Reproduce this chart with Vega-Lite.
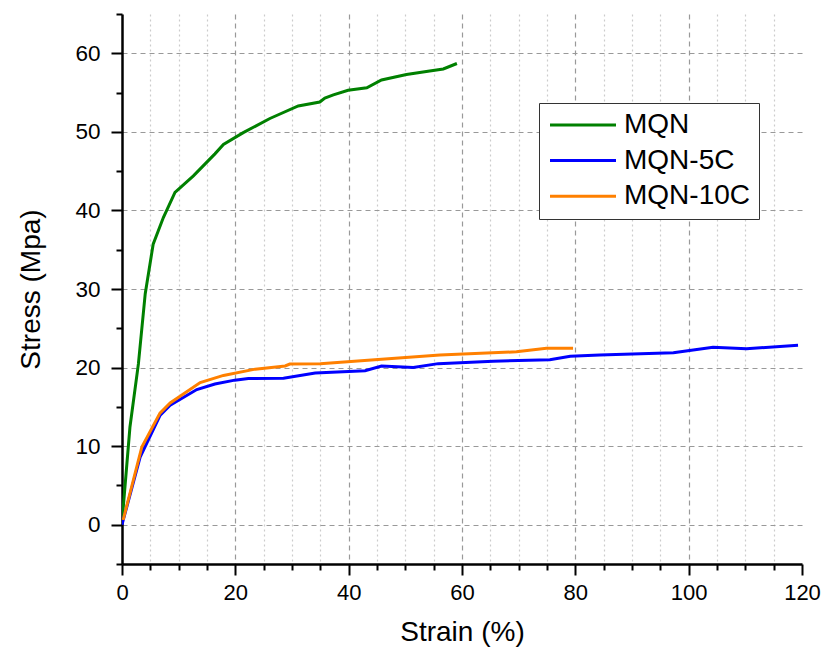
{
  "$schema": "https://vega.github.io/schema/vega-lite/v6.json",
  "autosize": {"type": "none"},
  "padding": {"left": 122, "top": 14, "right": 23, "bottom": 85},
  "width": 680,
  "height": 550,
  "background": "white",
  "config": {
    "font": "Liberation Sans",
    "view": {"stroke": null}
  },
  "data": {
    "values": [
      {"series": "MQN", "strain": 0, "stress": 0.3},
      {"series": "MQN", "strain": 1.4, "stress": 12.4},
      {"series": "MQN", "strain": 2.9, "stress": 20.5},
      {"series": "MQN", "strain": 4.1, "stress": 29.4},
      {"series": "MQN", "strain": 5.5, "stress": 35.7},
      {"series": "MQN", "strain": 7.3, "stress": 39.1},
      {"series": "MQN", "strain": 9.35, "stress": 42.3},
      {"series": "MQN", "strain": 12.6, "stress": 44.4},
      {"series": "MQN", "strain": 16.4, "stress": 47.2},
      {"series": "MQN", "strain": 17.9, "stress": 48.4},
      {"series": "MQN", "strain": 21.4, "stress": 49.9},
      {"series": "MQN", "strain": 26.1, "stress": 51.7},
      {"series": "MQN", "strain": 31.1, "stress": 53.3},
      {"series": "MQN", "strain": 34.9, "stress": 53.8},
      {"series": "MQN", "strain": 35.8, "stress": 54.3},
      {"series": "MQN", "strain": 37.3, "stress": 54.7},
      {"series": "MQN", "strain": 39.9, "stress": 55.3},
      {"series": "MQN", "strain": 43.2, "stress": 55.6},
      {"series": "MQN", "strain": 45.8, "stress": 56.6},
      {"series": "MQN", "strain": 50.2, "stress": 57.3},
      {"series": "MQN", "strain": 54.3, "stress": 57.75},
      {"series": "MQN", "strain": 56.7, "stress": 58.0},
      {"series": "MQN", "strain": 59.1, "stress": 58.7},
      {"series": "MQN-5C", "strain": 0, "stress": 0},
      {"series": "MQN-5C", "strain": 3.2, "stress": 8.6},
      {"series": "MQN-5C", "strain": 6.7, "stress": 13.9},
      {"series": "MQN-5C", "strain": 8.5, "stress": 15.2},
      {"series": "MQN-5C", "strain": 13.2, "stress": 17.2},
      {"series": "MQN-5C", "strain": 16.4, "stress": 17.9},
      {"series": "MQN-5C", "strain": 19.9, "stress": 18.4},
      {"series": "MQN-5C", "strain": 22.3, "stress": 18.6},
      {"series": "MQN-5C", "strain": 28.5, "stress": 18.65},
      {"series": "MQN-5C", "strain": 34.1, "stress": 19.3},
      {"series": "MQN-5C", "strain": 42.9, "stress": 19.6},
      {"series": "MQN-5C", "strain": 45.8, "stress": 20.2},
      {"series": "MQN-5C", "strain": 51.4, "stress": 20.0},
      {"series": "MQN-5C", "strain": 55.8, "stress": 20.5},
      {"series": "MQN-5C", "strain": 65.5, "stress": 20.8},
      {"series": "MQN-5C", "strain": 75.5, "stress": 21.0},
      {"series": "MQN-5C", "strain": 79.1, "stress": 21.45},
      {"series": "MQN-5C", "strain": 84.3, "stress": 21.6},
      {"series": "MQN-5C", "strain": 97.3, "stress": 21.9},
      {"series": "MQN-5C", "strain": 104.3, "stress": 22.6},
      {"series": "MQN-5C", "strain": 110.2, "stress": 22.4},
      {"series": "MQN-5C", "strain": 119.3, "stress": 22.85},
      {"series": "MQN-10C", "strain": 0.2, "stress": 0.6},
      {"series": "MQN-10C", "strain": 3.5, "stress": 9.9},
      {"series": "MQN-10C", "strain": 6.7, "stress": 14.2},
      {"series": "MQN-10C", "strain": 8.5, "stress": 15.5},
      {"series": "MQN-10C", "strain": 13.8, "stress": 18.1},
      {"series": "MQN-10C", "strain": 17.9, "stress": 19.0},
      {"series": "MQN-10C", "strain": 23.5, "stress": 19.8},
      {"series": "MQN-10C", "strain": 28.8, "stress": 20.2},
      {"series": "MQN-10C", "strain": 29.6, "stress": 20.45},
      {"series": "MQN-10C", "strain": 35.0, "stress": 20.5},
      {"series": "MQN-10C", "strain": 44.6, "stress": 21.0},
      {"series": "MQN-10C", "strain": 56.1, "stress": 21.6},
      {"series": "MQN-10C", "strain": 69.6, "stress": 22.0},
      {"series": "MQN-10C", "strain": 74.9, "stress": 22.45},
      {"series": "MQN-10C", "strain": 79.6, "stress": 22.45}
    ]
  },
  "mark": {"type": "line", "strokeWidth": 3, "clip": true},
  "encoding": {
    "x": {
      "field": "strain",
      "type": "quantitative",
      "title": "Strain (%)",
      "scale": {"domain": [0, 120], "nice": false, "zero": false},
      "axis": {
        "values": [0,5,10,15,20,25,30,35,40,45,50,55,60,65,70,75,80,85,90,95,100,105,110,115,120],
        "labelExpr": "datum.value % 20 === 0 ? datum.label : ''",
        "labelFontSize": 22,
        "labelColor": "black",
        "labelPadding": 7,
        "labelFlush": false,
        "labelOverlap": false,
        "domainColor": "black",
        "domainWidth": 2.5,
        "tickColor": "black",
        "tickWidth": 2,
        "tickSize": {"condition": {"test": "datum.value % 20 === 0", "value": 11}, "value": 6},
        "grid": true,
        "gridColor": {"condition": {"test": "datum.value % 20 === 0", "value": "#999999"}, "value": "#cccccc"},
        "gridDash": {"condition": {"test": "datum.value % 20 === 0", "value": [5, 4]}, "value": [2, 3]},
        "gridWidth": 1.2,
        "gridOpacity": {"condition": {"test": "datum.value <= 0 || datum.value >= 120", "value": 0}, "value": 1},
        "titleFontSize": 28,
        "titleFontWeight": "normal",
        "titleColor": "black",
        "titlePadding": 15
      }
    },
    "y": {
      "field": "stress",
      "type": "quantitative",
      "title": "Stress (Mpa)",
      "scale": {"domain": [-5, 65], "nice": false, "zero": false},
      "axis": {
        "values": [-5,0,5,10,15,20,25,30,35,40,45,50,55,60,65],
        "labelExpr": "(datum.value % 10 === 0 && datum.value >= 0 && datum.value <= 60) ? datum.label : ''",
        "labelFontSize": 22.5,
        "labelColor": "black",
        "labelPadding": 11,
        "labelFlush": false,
        "labelOverlap": false,
        "domainColor": "black",
        "domainWidth": 2.5,
        "tickColor": "black",
        "tickWidth": 2,
        "tickSize": {"condition": {"test": "datum.value % 10 === 0", "value": 11}, "value": 6},
        "grid": true,
        "gridColor": "#999999",
        "gridDash": [5, 4],
        "gridWidth": 1.2,
        "gridOpacity": {"condition": {"test": "datum.value % 10 === 0 && datum.value >= 0 && datum.value <= 60", "value": 1}, "value": 0},
        "titleFontSize": 28,
        "titleFontWeight": "normal",
        "titleColor": "black",
        "titlePadding": 29
      }
    },
    "color": {
      "field": "series",
      "type": "nominal",
      "scale": {"domain": ["MQN", "MQN-5C", "MQN-10C"], "range": ["#008000", "#0000ff", "#ff8000"]},
      "legend": {
        "title": null,
        "orient": "none",
        "legendX": 417,
        "legendY": 89,
        "padding": 8,
        "fillColor": "white",
        "strokeColor": "#333333",
        "symbolType": "M-1.0,0H5.0",
        "symbolSize": 484,
        "symbolStrokeWidth": 3,
        "symbolFillColor": "transparent",
        "labelFontSize": 28,
        "labelColor": "black",
        "labelOffset": 49,
        "rowPadding": 7.6
      }
    }
  }
}
